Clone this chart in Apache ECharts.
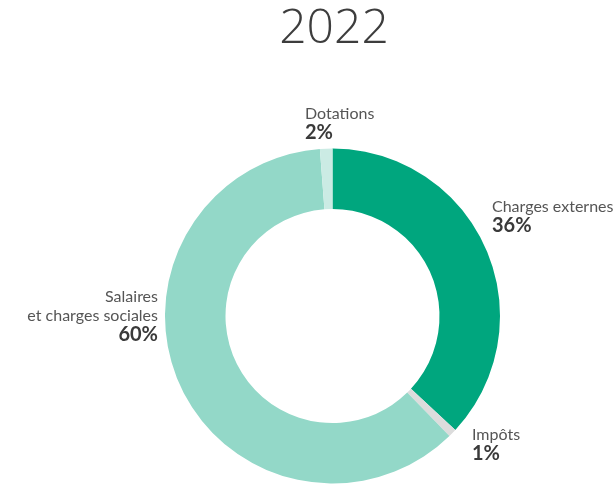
<!DOCTYPE html>
<html>
<head>
<meta charset="utf-8">
<script src="https://cdn.jsdelivr.net/npm/echarts@6/dist/echarts.min.js"></script>
<style>
  html, body { margin: 0; padding: 0; background: #fff; }
  #chart { width: 616px; height: 484px; }
</style>
</head>
<body>
<div id="chart"></div>
<script>
// slices, clockwise from 12 o'clock
const categories = ['Charges externes', 'Impôts', 'Salaires\net charges sociales', 'Dotations'];
const shares = [36.9, 0.8, 61.1, 1.2];
const shownPct = ['36%', '1%', '60%', '2%'];
const colors = ['#00a67e', '#dcdcdc', '#93d8c8', '#cbebe4'];

// where each label block sits (top-left or top-right corner)
const labelPos = [
  {x: 492, y: 197, align: 'left'},
  {x: 472, y: 425, align: 'left'},
  {x: 158, y: 287, align: 'right'},
  {x: 305, y: 104, align: 'left'}
];

const chart = echarts.init(document.getElementById('chart'), null, {renderer: 'canvas'});

const data = categories.map((name, i) => ({
  name: name,
  value: shares[i],
  itemStyle: {color: colors[i]}
}));

const textStyle = (al) => ({
  n: {fontFamily: 'Lato', fontSize: 16, color: '#555', lineHeight: 19, align: al},
  p: {fontFamily: 'Lato', fontSize: 20, fontWeight: 'bold', color: '#3a3a3a', lineHeight: 20, align: al}
});

const option = {
  animation: false,
  title: {
    text: '2022',
    left: 329,
    textAlign: 'center',
    top: 0,
    textStyle: {fontFamily: 'Open Sans', fontWeight: 300, fontSize: 48, color: '#3d3d3d'}
  },
  series: [{
    type: 'pie',
    center: [332.5, 316],
    radius: [107, 167.5],
    startAngle: 90,
    clockwise: true,
    data: data.map((d, i) => Object.assign(d, {
      label: {rich: textStyle(labelPos[i].align)}
    })),
    label: {
      show: true,
      position: 'outside',
      overflow: 'none',
      formatter: (p) => {
        const lines = p.name.split('\n').map(s => '{n|' + s + '}');
        return lines.join('\n') + '\n{p|' + shownPct[p.dataIndex] + '}';
      }
    },
    labelLine: {show: false},
    labelLayout: (params) => {
      const lp = labelPos[params.dataIndex];
      return {x: lp.x, y: lp.y, align: lp.align, verticalAlign: 'top'};
    },
    emphasis: {disabled: true}
  }]
};

chart.setOption(option);
</script>
</body>
</html>
